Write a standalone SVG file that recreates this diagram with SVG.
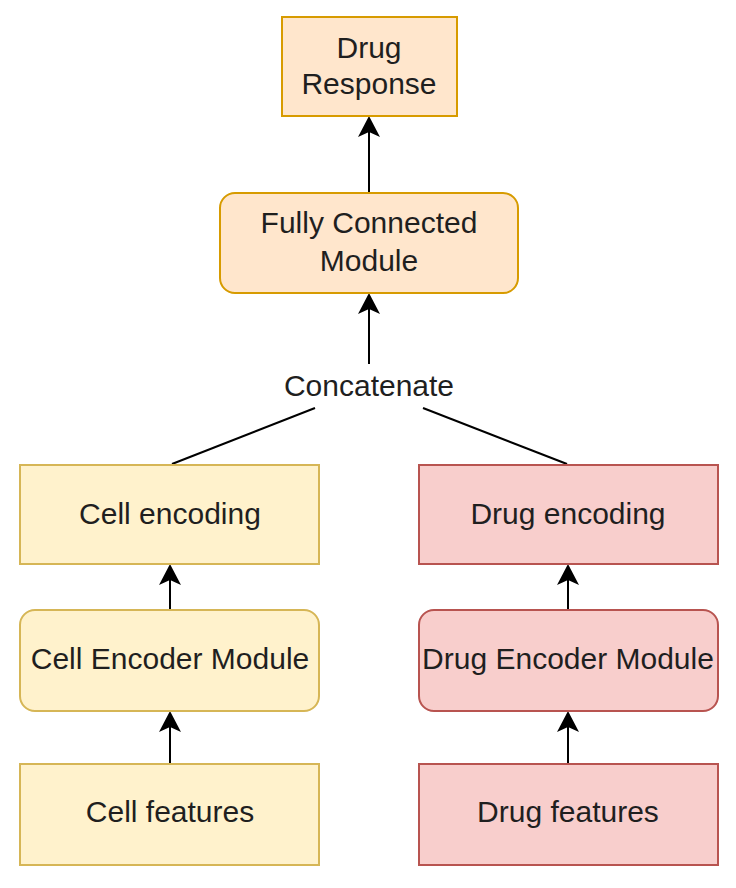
<svg xmlns="http://www.w3.org/2000/svg" width="736" height="888" viewBox="0 0 736 888">
<style>
text{font-family:"Liberation Sans",Arial,Helvetica,sans-serif;font-size:30px;fill:#1f1f1f;text-anchor:middle}
.orange{fill:#ffe6cc;stroke:#d79b00;stroke-width:2}
.yellow{fill:#fff2cc;stroke:#d6b656;stroke-width:2}
.red{fill:#f8cecc;stroke:#b85450;stroke-width:2}
.edge{stroke:#000;stroke-width:2;fill:none}
</style>
<defs>
<marker id="arr" markerUnits="userSpaceOnUse" markerWidth="22" markerHeight="22" viewBox="0 0 22 22" refX="5" refY="11" orient="auto">
<path d="M21 11 L0 0 L5 11 L0 22 Z" fill="#000"/>
</marker>
</defs>
<rect width="736" height="888" fill="#fff"/>
<g id="connectors">
<line class="edge" x1="369" y1="193" x2="369" y2="132" marker-end="url(#arr)"/>
<line class="edge" x1="369" y1="364" x2="369" y2="309" marker-end="url(#arr)"/>
<line class="edge" x1="315" y1="408" x2="172" y2="464"/>
<line class="edge" x1="423" y1="408" x2="567" y2="464"/>
<line class="edge" x1="170" y1="610" x2="170" y2="580" marker-end="url(#arr)"/>
<line class="edge" x1="170" y1="764" x2="170" y2="727" marker-end="url(#arr)"/>
<line class="edge" x1="568" y1="610" x2="568" y2="580" marker-end="url(#arr)"/>
<line class="edge" x1="568" y1="764" x2="568" y2="727" marker-end="url(#arr)"/>
</g>
<g id="drug-response">
<rect class="orange" x="282" y="17" width="175" height="99"/>
<text x="369" y="58">Drug</text>
<text x="369" y="94">Response</text>
</g>
<g id="fully-connected">
<rect class="orange" x="220" y="193" width="298" height="100" rx="15"/>
<text x="369" y="233">Fully Connected</text>
<text x="369" y="271">Module</text>
</g>
<g id="concatenate">
<text x="369" y="396">Concatenate</text>
</g>
<g id="cell-encoding">
<rect class="yellow" x="20" y="465" width="299" height="99"/>
<text x="170" y="524">Cell encoding</text>
</g>
<g id="cell-encoder-module">
<rect class="yellow" x="20" y="610" width="299" height="101" rx="15"/>
<text x="170" y="669">Cell Encoder Module</text>
</g>
<g id="cell-features">
<rect class="yellow" x="20" y="764" width="299" height="101"/>
<text x="170" y="822">Cell features</text>
</g>
<g id="drug-encoding">
<rect class="red" x="419" y="465" width="299" height="99"/>
<text x="568" y="524">Drug encoding</text>
</g>
<g id="drug-encoder-module">
<rect class="red" x="419" y="610" width="299" height="101" rx="15"/>
<text x="568" y="669">Drug Encoder Module</text>
</g>
<g id="drug-features">
<rect class="red" x="419" y="764" width="299" height="101"/>
<text x="568" y="822">Drug features</text>
</g>
</svg>
